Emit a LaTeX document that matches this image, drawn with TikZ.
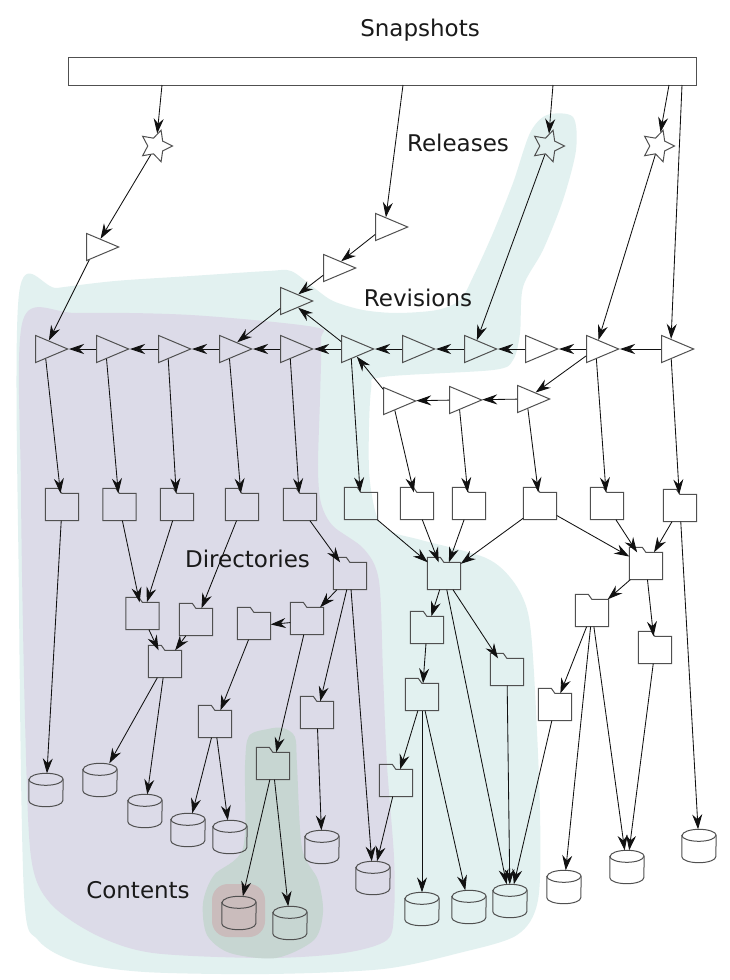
\documentclass[tikz,border=0pt]{standalone}
\usepackage{fontspec}
\setmainfont{DejaVu Sans}
\usetikzlibrary{shapes.geometric, arrows.meta}
\definecolor{tealbg}{HTML}{E2F1F0}
\definecolor{purplebg}{HTML}{DCDBE8}
\definecolor{greenbg}{HTML}{C7D6D2}
\definecolor{redbg}{HTML}{CABCBC}
\definecolor{outl}{HTML}{505050}
\definecolor{connc}{HTML}{111111}
\definecolor{labelc}{HTML}{1A1A1A}
\begin{document}
\begin{tikzpicture}[x=1pt,y=1pt,
  shapeline/.style={draw=outl, line width=1pt},
  conn/.style={draw=connc, line width=0.85pt, -{Stealth[length=15pt,width=10pt,inset=5pt]}},
  folder/.style={rectangle, inner sep=0pt, minimum width=33pt, minimum height=27pt},
  drum/.style={rectangle, inner sep=0pt, minimum width=34pt, minimum height=33pt},
  tri/.style={isosceles triangle, isosceles triangle stretches, inner sep=0pt, minimum width=27pt, minimum height=32pt, shapeline, anchor=apex},
  rel/.style={star, star points=5, star point ratio=2, minimum size=33pt, inner sep=0pt, shape border rotate=-90, shapeline},
  snapbar/.style={rectangle, shapeline, fill=white, inner sep=0pt, minimum width=628pt, minimum height=28pt},
  lbl/.style={font=\fontsize{23}{28}\selectfont, text=labelc, anchor=base, inner sep=0pt}
]
\useasboundingbox (0,0) rectangle (730,-980);
\fill[white] (0,0) rectangle (730,-980);

% ---------- background regions ----------
\fill[tealbg] plot[smooth cycle, tension=0.5] coordinates {
 (19,-294) (57,-288) (115,-281) (191,-276) (268,-271) (291,-271) (313,-287) (333,-301)
 (363,-310) (397,-313) (437,-310) (460,-300) (473,-277) (493,-233) (513,-183) (530,-133)
 (547,-115) (573,-117) (576,-150) (563,-200) (543,-250) (523,-287) (520,-333) (513,-360)
 (493,-370) (383,-377) (371,-390) (369,-470) (377,-517) (392,-532) (421,-540) (486,-558)
 (513,-581) (528,-613) (534,-673) (540,-811) (538,-900) (517,-935) (459,-953) (383,-969)
 (268,-974) (145,-972) (77,-962) (38,-940) (24,-894) (19,-600)};
\fill[purplebg] plot[smooth cycle, tension=0.5] coordinates {
 (23,-320) (77,-313) (191,-315) (314,-327) (321,-340) (320,-398) (318,-467) (321,-503)
 (333,-526) (364,-549) (379,-581) (383,-673) (387,-765) (394,-857) (394,-912) (387,-940)
 (344,-953) (268,-958) (153,-953) (96,-935) (50,-903) (31,-857) (25,-719) (21,-490)};
\fill[greenbg] plot[smooth cycle, tension=0.5] coordinates {
 (268,-729) (249,-736) (245,-765) (243,-848) (214,-875) (203,-903) (207,-935) (230,-953)
 (276,-958) (314,-940) (323,-912) (318,-880) (302,-848) (297,-765) (295,-737) (283,-728)};
\fill[redbg, rounded corners=16pt] (212,-884) rectangle (265,-937);

% ---------- labels ----------
\node[lbl] (lsnap) at (420,-36) {Snapshots};
\node[lbl] (lrel) at (458,-151) {Releases};
\node[lbl] (lrev) at (418,-306) {Revisions};
\node[lbl] (ldir) at (247.5,-567) {Directories};
\node[lbl] (lcon) at (138,-898) {Contents};

% ---------- snapshots bar ----------
\node[snapbar] (bar) at (382,-71) {};
\coordinate (b1) at (162,-85);
\coordinate (b2) at (403,-85);
\coordinate (b3) at (553,-85);
\coordinate (b4) at (669,-85);
\coordinate (b5) at (682,-85);

% ---------- releases ----------
\node[rel] (S1) at (156,-146) {};
\node[rel] (S2) at (548,-146) {};
\node[rel] (S3) at (658,-146) {};

% ---------- revisions ----------
\node[tri] (TA) at (120,-247) {};
\node[tri] (TB) at (357,-268) {};
\node[tri] (TC) at (314,-301) {};
\node[tri] (TD) at (409,-227) {};
\node[tri] (T1) at (69,-349) {};
\node[tri] (T2) at (130,-349) {};
\node[tri] (T3) at (192,-349) {};
\node[tri] (T4) at (253,-349) {};
\node[tri] (T5) at (314,-349) {};
\node[tri] (T6) at (375,-349) {};
\node[tri] (T7) at (436,-349) {};
\node[tri] (T8) at (498,-349) {};
\node[tri] (T9) at (559,-349) {};
\node[tri] (T10) at (620,-349) {};
\node[tri] (T11) at (695,-349) {};
\node[tri] (T12) at (417,-401) {};
\node[tri] (T13) at (483,-400) {};
\node[tri] (T14) at (551,-399) {};

% ---------- directories ----------
\node[folder] (F1) at (62,-507) {};
\node[folder] (F2) at (119.5,-507) {};
\node[folder] (F3) at (177,-507) {};
\node[folder] (F4) at (242,-507) {};
\node[folder] (F5) at (300,-507) {};
\node[folder] (F6) at (361,-506) {};
\node[folder] (F7) at (417,-506) {};
\node[folder] (F8) at (469,-506) {};
\node[folder] (F9) at (540,-506) {};
\node[folder] (F10) at (607,-506) {};
\node[folder] (F11) at (680,-508) {};
\node[folder] (G1) at (142.5,-616) {};
\node[folder] (G2) at (196,-622) {};
\node[folder] (G3) at (165,-664) {};
\node[folder] (G4) at (254,-626) {};
\node[folder] (G5) at (307,-621) {};
\node[folder] (G6) at (350,-576) {};
\node[folder] (G7) at (215,-724) {};
\node[folder] (G8) at (317,-715) {};
\node[folder] (G9) at (273,-766) {};
\node[folder] (G10) at (396,-783) {};
\node[folder] (H1) at (444,-576) {};
\node[folder] (H2) at (427,-630) {};
\node[folder] (H3) at (422,-697) {};
\node[folder] (H4) at (507,-672) {};
\node[folder] (H5) at (646,-566) {};
\node[folder] (H6) at (592,-613) {};
\node[folder] (H7) at (655,-650) {};
\node[folder] (H8) at (555,-707) {};
\foreach \n in {F1,F2,F3,F4,F5,F6,F7,F8,F9,F10,F11,G1,G2,G3,G4,G5,G6,G7,G8,G9,G10,H1,H2,H3,H4,H5,H6,H7,H8}{
  \draw[shapeline] (\n.south west) -- (\n.north west) -- ++(0pt,5pt) -- ++(13pt,0pt)
     -- ++(3.5pt,-5pt) -- (\n.north east) -- (\n.south east) -- cycle;
}

% ---------- contents ----------
\node[drum] (C1) at (46,-790) {};
\node[drum] (C2) at (100,-780) {};
\node[drum] (C3) at (145,-811) {};
\node[drum] (C4) at (188,-830) {};
\node[drum] (C5) at (230,-837) {};
\node[drum] (C6) at (239,-913) {};
\node[drum] (C7) at (290,-923) {};
\node[drum] (C8) at (322,-847) {};
\node[drum] (C9) at (373,-878) {};
\node[drum] (C10) at (422,-909) {};
\node[drum] (C11) at (469,-907) {};
\node[drum] (C12) at (510,-901) {};
\node[drum] (C13) at (564,-887) {};
\node[drum] (C14) at (627,-867) {};
\node[drum] (C15) at (699,-846) {};
\foreach \n in {C1,C2,C3,C4,C5,C6,C7,C8,C9,C10,C11,C12,C13,C14,C15}{
  \draw[shapeline] ([yshift=-6pt]\n.north west) -- ([yshift=6pt]\n.south west)
     arc[start angle=180, end angle=360, x radius=17pt, y radius=6pt]
     -- ([yshift=-6pt]\n.north east)
     arc[start angle=0, end angle=180, x radius=17pt, y radius=6pt] -- cycle;
  \draw[shapeline] ([yshift=-6pt]\n.north west)
     arc[start angle=180, end angle=360, x radius=17pt, y radius=6pt];
}

% ---------- connectors ----------
\foreach \a/\b in {b1/S1, b2/TD, b3/S2, b4/S3, b5/T11,
  S1/TA, TA/T1, TD/TB, TB/TC, TC/T4, T6/TC, S2/T8, S3/T10,
  T2/T1, T3/T2, T4/T3, T5/T4, T6/T5, T7/T6, T8/T7, T9/T8, T10/T9, T11/T10,
  T10/T14, T14/T13, T13/T12, T12/T6,
  T1/F1, T2/F2, T3/F3, T4/F4, T5/F5, T6/F6, T12/F7, T13/F8, T14/F9, T10/F10, T11/F11,
  F1/C1, F2/G1, F3/G1, F4/G2, F5/G6,
  G1/G3, G2/G3, G6/G5, G5/G4, G6/G8, G6/C9, G3/C2, G3/C3, G4/G7, G5/G9,
  G7/C4, G7/C5, G8/C8, G9/C6, G9/C7, G10/C9,
  F6/H1, F7/H1, F8/H1, F9/H1, F9/H5, F10/H5, F11/H5, F11/C15,
  H1/H2, H1/H4, H1/C12, H2/H3, H3/G10, H3/C10, H3/C11, H4/C12, H8/C12,
  H5/H6, H5/H7, H6/H8, H6/C13, H6/C14, H7/C14}{
  \draw[conn] (\a) -- (\b);
}
\end{tikzpicture}
\end{document}
